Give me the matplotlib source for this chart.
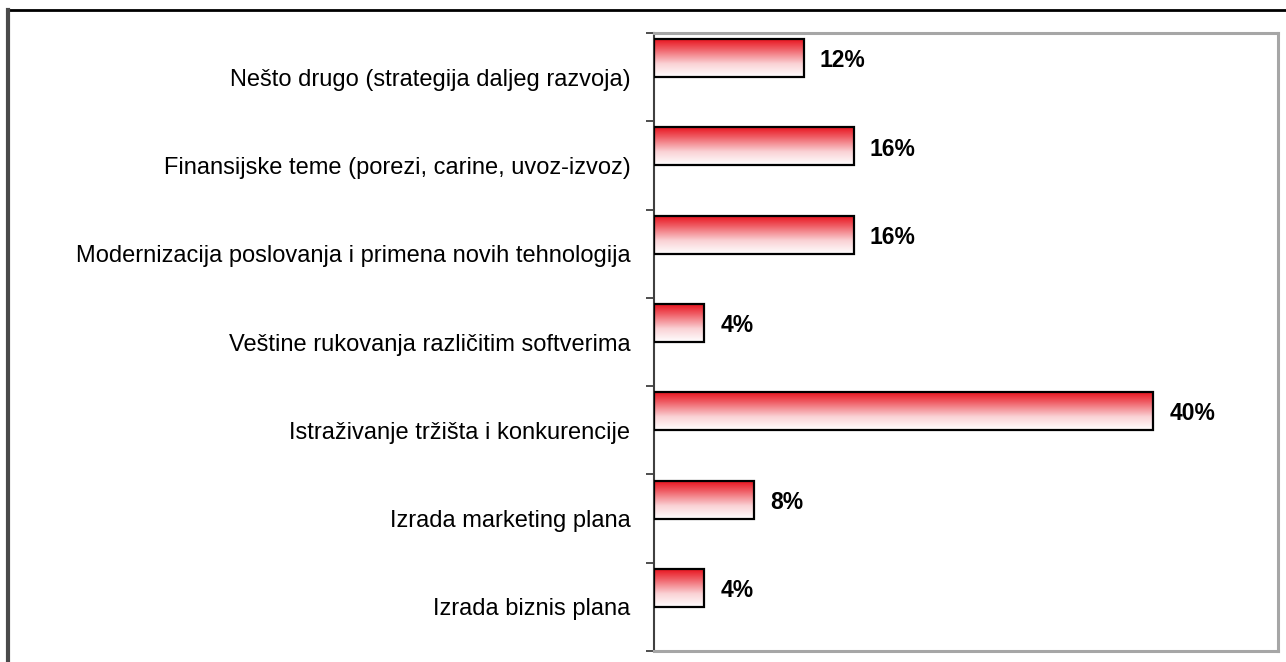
import matplotlib
matplotlib.use("Agg")
import matplotlib.pyplot as plt
import numpy as np
from matplotlib.colors import LinearSegmentedColormap
from matplotlib.lines import Line2D

# categories listed bottom to top
CATEGORIES = [
    "Izrada biznis plana",
    "Izrada marketing plana",
    "Istraživanje tržišta i konkurencije",
    "Veštine rukovanja različitim softverima",
    "Modernizacija poslovanja i primena novih tehnologija",
    "Finansijske teme (porezi, carine, uvoz-izvoz)",
    "Nešto drugo (strategija daljeg razvoja)",
]
VALUES = [4, 8, 40, 4, 16, 16, 12]

BAR_H = 0.43
RED_WHITE = LinearSegmentedColormap.from_list(
    "redwhite", [(0.0, "#ffffff"), (0.35, "#fad2d5"), (0.75, "#ef5a62"), (1.0, "#e81520")])

plt.rcParams.update({"font.family": ["Liberation Sans", "DejaVu Sans"]})
fig = plt.figure(figsize=(12.86, 6.62), dpi=100)
W, H = 1286, 662
ax = fig.add_axes([654 / W, 1 - 651 / H, (1278 - 654) / W, (651 - 33) / H])

grad = np.linspace(0, 1, 256).reshape(-1, 1)
for i, v in enumerate(VALUES):
    y0 = i
    bar = ax.barh(y0 + BAR_H / 2, v, height=BAR_H, color="none",
                  edgecolor="black", linewidth=1.6, zorder=3)[0]
    im = ax.imshow(grad, cmap=RED_WHITE, aspect="auto", origin="lower",
                   extent=(0, v, y0, y0 + BAR_H), zorder=2, interpolation="bilinear")
    im.set_clip_path(bar)
    ax.text(v + 1.3, y0 + BAR_H / 2 - 0.03, f"{v}%", ha="left", va="center",
            fontsize=16.5, fontweight="bold", color="black")

ax.set_xlim(0, 50)
ax.set_ylim(-0.5, len(CATEGORIES) - 0.5)
ax.set_xticks([])
ax.set_yticks(range(len(CATEGORIES)))
ax.set_yticklabels(CATEGORIES, fontsize=17)
ax.tick_params(axis="y", which="major", length=0, pad=17)
ax.set_yticks(np.arange(-0.5, len(CATEGORIES), 1.0), minor=True)
ax.tick_params(axis="y", which="minor", length=6, width=1.2, direction="out", color="#303030")

for side in ("top", "right", "bottom"):
    ax.spines[side].set_color("#a6a6a6")
    ax.spines[side].set_linewidth(2.2)
ax.spines["left"].set_color("#404040")
ax.spines["left"].set_linewidth(1.5)

# outer chart border (top and left visible)
fig.add_artist(Line2D([8 / W, 1.01], [1 - 10 / H, 1 - 10 / H], color="black", lw=2.0,
                      transform=fig.transFigure))
fig.add_artist(Line2D([8 / W, 8 / W], [-0.01, 1 - 10 / H], color="#4a4a4a", lw=3.0,
                      transform=fig.transFigure))

fig.savefig("out.png", dpi=100)
